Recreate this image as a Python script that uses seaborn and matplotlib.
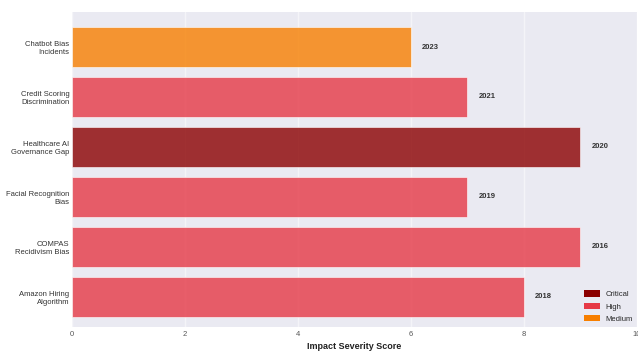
import matplotlib
matplotlib.use("Agg")
import matplotlib.pyplot as plt
import seaborn as sns
import pandas as pd
from matplotlib.patches import Patch

incidents = ["Chatbot Bias\nIncidents", "Credit Scoring\nDiscrimination", "Healthcare AI\nGovernance Gap",
             "Facial Recognition\nBias", "COMPAS\nRecidivism Bias", "Amazon Hiring\nAlgorithm"]
scores = [6, 7, 9, 7, 9, 8]
years = ["2023", "2021", "2020", "2019", "2016", "2018"]
severity = ["Medium", "High", "Critical", "High", "High", "High"]
severity_order = ["Critical", "High", "Medium"]
colors = {"Critical": "#8B0000", "High": "#E63946", "Medium": "#F77F00"}

sns.set_theme(style="darkgrid", rc={"grid.alpha": 0.5})
plt.rcParams['font.family'] = ['Liberation Sans', 'DejaVu Sans']

df = pd.DataFrame({"incident": incidents, "score": scores, "year": years, "severity": severity})

fig, ax = plt.subplots(figsize=(6.38, 3.54), dpi=100)
fig.subplots_adjust(left=0.113, right=0.998, top=0.966, bottom=0.077)

sns.barplot(data=df, x="score", y="incident", hue="severity", hue_order=severity_order,
            palette=colors, saturation=1, dodge=False, alpha=0.8, width=0.8, legend=False,
            edgecolor="white", linewidth=0.5, ax=ax)

for i, (s, yr) in enumerate(zip(scores, years)):
    ax.text(s + 0.2, i, yr, va="center", ha="left", fontsize=5.5, fontweight="bold", color="#333333")

ax.set_xlim(0, 10)
ax.set_ylim(5.6, -0.7)
ax.set_xlabel("Impact Severity Score", fontsize=6.5, fontweight="bold", color="#222222", labelpad=3)
ax.set_ylabel("")
ax.tick_params(axis="y", labelsize=5.5, colors="#333333", length=0, pad=2)
ax.tick_params(axis="x", labelsize=5.5, colors="#555555", length=0, pad=3)
for sp in ax.spines.values():
    sp.set_visible(False)

handles = [Patch(facecolor=colors[k], edgecolor="none", label=k) for k in severity_order]
ax.legend(handles=handles, loc="lower right", fontsize=5.5, frameon=False,
          handlelength=2.0, handleheight=0.9, borderaxespad=0.1, labelspacing=0.6)

fig.savefig("out.png", dpi=100)
